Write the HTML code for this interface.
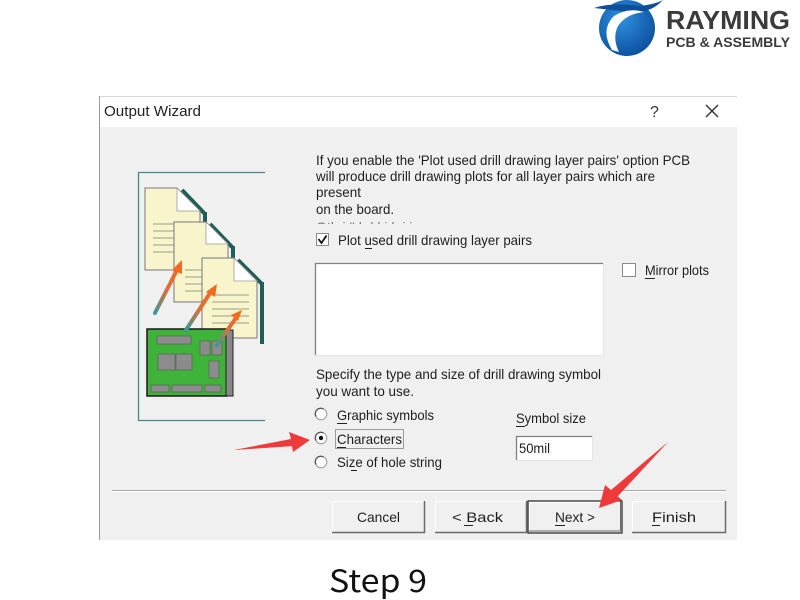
<!DOCTYPE html>
<html><head><meta charset="utf-8"><style>
html,body{margin:0;padding:0;background:#fff;width:800px;height:600px;overflow:hidden}
svg{display:block}
</style></head><body>
<svg width="800" height="600" viewBox="0 0 800 600" xmlns="http://www.w3.org/2000/svg" font-family="Liberation Sans, Arial, sans-serif">
<defs>
<radialGradient id="gb" cx="0.4" cy="0.35" r="0.7">
<stop offset="0" stop-color="#2f8fe0"/><stop offset="1" stop-color="#0b4f9c"/>
</radialGradient>
<linearGradient id="ar" x1="0" y1="1" x2="1" y2="0">
<stop offset="0" stop-color="#3a9a9a"/><stop offset="0.5" stop-color="#d8703a"/><stop offset="1" stop-color="#f06a20"/>
</linearGradient>
</defs>

<!-- Logo -->
<circle cx="627" cy="28" r="28" fill="url(#gb)"/>
<path d="M594 8 Q612 2 640 6 Q656 4 663 0 Q650 14 630 12 Q612 10 594 8Z" fill="#0d4f9a"/>
<path d="M612 50 Q600 30 614 16 Q628 7 644 12 Q626 14 618 26 Q612 38 619 52Z" fill="#fff"/>
<text x="666" y="29" font-size="26" font-weight="bold" fill="#3b3b3b" textLength="124" lengthAdjust="spacingAndGlyphs">RAYMING</text>
<text x="666" y="47" font-size="13.5" font-weight="bold" fill="#3b3b3b" textLength="124" lengthAdjust="spacingAndGlyphs">PCB &amp; ASSEMBLY</text>

<!-- Dialog -->
<rect x="99" y="96" width="638" height="31" fill="#fff"/>
<line x1="99" y1="96.5" x2="737" y2="96.5" stroke="#d8d8d8"/>
<rect x="99" y="127" width="638" height="413" fill="#f0f0f0"/>
<line x1="99.5" y1="96" x2="99.5" y2="540" stroke="#9a9a9a"/>
<text x="104" y="116" font-size="14.5" fill="#222" textLength="97" lengthAdjust="spacingAndGlyphs">Output Wizard</text>
<text x="650" y="117" font-size="16" fill="#333">?</text>
<path d="M706 105 L718 117 M718 105 L706 117" stroke="#333" stroke-width="1.4"/>

<!-- Illustration frame -->
<path d="M265 172.5 H138.5 V420.5 H265" fill="none" stroke="#4a8a86" stroke-width="1.3"/>

<!-- docs -->
<g>
<path d="M205 212 V273 H203 M182 190 L205 214" stroke="#1f5e58" stroke-width="4" fill="none"/>
<path d="M145 188 H177 L200 211 V270 H145Z" fill="#f8f5cc" stroke="#777" stroke-width="1"/>
<path d="M177 188 V211 H200Z" fill="#fff" stroke="#999" stroke-width="0.8"/>
<g stroke="#9a9a8a" stroke-width="1"><line x1="153" y1="224" x2="190" y2="224"/><line x1="153" y1="231" x2="190" y2="231"/><line x1="153" y1="238" x2="190" y2="238"/><line x1="153" y1="245" x2="190" y2="245"/><line x1="153" y1="252" x2="190" y2="252"/></g>
</g>
<g>
<path d="M233 246 V306 H231 M210 224 L233 248" stroke="#1f5e58" stroke-width="4" fill="none"/>
<path d="M174 222 H206 L228 244 V302 H174Z" fill="#f8f5cc" stroke="#777" stroke-width="1"/>
<path d="M206 222 V244 H228Z" fill="#fff" stroke="#999" stroke-width="0.8"/>
<g stroke="#9a9a8a" stroke-width="1"><line x1="185" y1="270" x2="220" y2="270"/><line x1="185" y1="277" x2="220" y2="277"/><line x1="185" y1="284" x2="220" y2="284"/><line x1="185" y1="291" x2="220" y2="291"/></g>
</g>
<g>
<path d="M262 282 V342 H260 M238 260 L262 284" stroke="#1f5e58" stroke-width="4" fill="none"/>
<path d="M202 258 H234 L257 281 V338 H202Z" fill="#f8f5cc" stroke="#777" stroke-width="1"/>
<path d="M234 258 V281 H257Z" fill="#fff" stroke="#999" stroke-width="0.8"/>
<g stroke="#9a9a8a" stroke-width="1"><line x1="212" y1="295" x2="249" y2="295"/><line x1="212" y1="302" x2="249" y2="302"/><line x1="212" y1="309" x2="249" y2="309"/><line x1="212" y1="316" x2="249" y2="316"/><line x1="212" y1="323" x2="249" y2="323"/></g>
</g>

<!-- PCB -->
<rect x="147" y="329" width="80" height="67" fill="#3fb23a" stroke="#1a1a1a" stroke-width="1.5"/>
<rect x="226" y="330" width="7" height="66" fill="#888" stroke="#222" stroke-width="1"/>
<g fill="#8c8c8c" stroke="#555" stroke-width="0.6">
<rect x="157" y="336" width="34" height="8"/>
<rect x="158" y="354" width="17" height="16"/><rect x="176" y="354" width="16" height="16"/>
<rect x="151" y="385" width="18" height="7"/><rect x="172" y="385" width="30" height="7"/><rect x="205" y="385" width="16" height="7"/>
<rect x="200" y="341" width="10" height="14"/><rect x="212" y="341" width="10" height="14"/>
<rect x="209" y="361" width="10" height="17"/>
</g>
<!-- orange arrows -->
<g stroke="url(#ar)" stroke-width="4" fill="none" stroke-linecap="round">
<path d="M155 313 L178 268"/><path d="M186 330 L212 290"/><path d="M217 345 L238 315"/>
</g>
<g fill="#f06a20">
<path d="M182 260 L172 270 L182 274Z"/><path d="M217 284 L206 292 L215 297Z"/><path d="M242 310 L231 315 L238 321Z"/>
</g>

<!-- Paragraph -->
<g font-size="14" fill="#1e1e1e">
<text x="316" y="165" textLength="374" lengthAdjust="spacingAndGlyphs">If you enable the 'Plot used drill drawing layer pairs' option PCB</text>
<text x="316" y="181" textLength="339" lengthAdjust="spacingAndGlyphs">will produce drill drawing plots for all layer pairs which are</text>
<text x="316" y="197" textLength="45" lengthAdjust="spacingAndGlyphs">present</text>
<text x="316" y="214" textLength="78" lengthAdjust="spacingAndGlyphs">on the board.</text>
</g>
<svg x="300" y="221" width="420" height="3" overflow="hidden">
<text x="16" y="11" font-size="14" fill="#777">Oth   i            ''   h  l   l i   k  i       i   </text>
</svg>

<!-- checkbox plot used -->
<rect x="316.5" y="233.5" width="12" height="12" fill="#fff" stroke="#8a8a8a"/>
<path d="M318.5 239 L321.5 243 L326.5 235.5" stroke="#111" stroke-width="1.8" fill="none"/>
<text x="338" y="245" font-size="14" fill="#1e1e1e" textLength="194" lengthAdjust="spacingAndGlyphs">Plot used drill drawing layer pairs</text>
<line x1="365" y1="248.5" x2="372" y2="248.5" stroke="#222"/>

<!-- listbox -->
<rect x="315" y="263" width="288" height="92" fill="#fff"/>
<path d="M315.5 355 V263.5 H603" stroke="#808080" fill="none" stroke-width="1.3"/>
<path d="M315 355.5 H603.5 V263" stroke="#e4e4e4" fill="none"/>

<!-- mirror plots -->
<rect x="622.5" y="263.5" width="13" height="13" fill="#fff" stroke="#8a8a8a"/>
<text x="645" y="275" font-size="14" fill="#1e1e1e" textLength="64" lengthAdjust="spacingAndGlyphs">Mirror plots</text>
<line x1="645" y1="278.5" x2="655" y2="278.5" stroke="#222"/>

<!-- specify -->
<g font-size="14" fill="#1e1e1e">
<text x="316" y="379" textLength="285" lengthAdjust="spacingAndGlyphs">Specify the type and size of drill drawing symbol</text>
<text x="316" y="396" textLength="98" lengthAdjust="spacingAndGlyphs">you want to use.</text>
<text x="337" y="420" textLength="97" lengthAdjust="spacingAndGlyphs">Graphic symbols</text>
<text x="337" y="444" textLength="65" lengthAdjust="spacingAndGlyphs">Characters</text>
<text x="337" y="467" textLength="105" lengthAdjust="spacingAndGlyphs">Size of hole string</text>
<text x="516" y="423" textLength="70" lengthAdjust="spacingAndGlyphs">Symbol size</text>
</g>
<g stroke="#222">
<line x1="337" y1="423.5" x2="347" y2="423.5"/>
<line x1="337" y1="447.5" x2="346" y2="447.5"/>
<line x1="351" y1="470.5" x2="357" y2="470.5"/>
<line x1="516" y1="426.5" x2="525" y2="426.5"/>
</g>
<rect x="335.5" y="429.5" width="68" height="19" fill="none" stroke="#444" stroke-dasharray="1 1"/>
<!-- radios -->
<g>
<circle cx="321" cy="414" r="5.8" fill="#fff" stroke="#9a9a9a" stroke-width="1"/><path d="M316 416.5 A5.5 5.5 0 0 1 323.5 409" stroke="#555" stroke-width="1.3" fill="none"/>
<circle cx="321" cy="438" r="5.8" fill="#fff" stroke="#9a9a9a" stroke-width="1"/><path d="M316 440.5 A5.5 5.5 0 0 1 323.5 433" stroke="#555" stroke-width="1.3" fill="none"/><circle cx="321" cy="438" r="2.2" fill="#111"/>
<circle cx="321" cy="462" r="5.8" fill="#fff" stroke="#9a9a9a" stroke-width="1"/><path d="M316 464.5 A5.5 5.5 0 0 1 323.5 457" stroke="#555" stroke-width="1.3" fill="none"/>
</g>
<!-- symbol size input -->
<rect x="516" y="436" width="76" height="24" fill="#fff"/>
<path d="M516.5 460 V436.5 H592" stroke="#808080" fill="none" stroke-width="1.3"/>
<path d="M516 460.5 H592.5 V436" stroke="#e4e4e4" fill="none"/>
<text x="519" y="453" font-size="14" fill="#1e1e1e" textLength="31" lengthAdjust="spacingAndGlyphs">50mil</text>

<!-- separator -->
<line x1="112" y1="490.5" x2="726" y2="490.5" stroke="#a8a8a8"/>
<line x1="112" y1="491.5" x2="726" y2="491.5" stroke="#fff"/>

<!-- buttons -->
<g>
<rect x="332" y="501" width="93" height="32" fill="#f0f0f0"/>
<path d="M332.5 533 V501.5 H425" stroke="#fff" fill="none"/>
<path d="M332 532.5 H424.5 V501" stroke="#6a6a6a" fill="none" stroke-width="1.5"/>
<rect x="435" y="501" width="92" height="32" fill="#f0f0f0"/>
<path d="M435.5 533 V501.5 H527" stroke="#fff" fill="none"/>
<path d="M435 532.5 H526.5 V501" stroke="#6a6a6a" fill="none" stroke-width="1.5"/>
<rect x="528" y="501" width="94" height="32" fill="#f0f0f0" stroke="#222" stroke-width="1.2"/>
<path d="M529.5 531 V502.5 H620" stroke="#fff" fill="none"/>
<path d="M529 531 H620.5 V502" stroke="#6a6a6a" fill="none"/>
<rect x="632" y="501" width="94" height="32" fill="#f0f0f0"/>
<path d="M632.5 533 V501.5 H726" stroke="#fff" fill="none"/>
<path d="M632 532.5 H725.5 V501" stroke="#6a6a6a" fill="none" stroke-width="1.5"/>
</g>
<g font-size="14" fill="#1e1e1e">
<text x="357" y="522" textLength="43" lengthAdjust="spacingAndGlyphs">Cancel</text>
<text x="452" y="522" textLength="51" lengthAdjust="spacingAndGlyphs">&lt; Back</text>
<text x="555" y="522" textLength="40" lengthAdjust="spacingAndGlyphs">Next &gt;</text>
<text x="652" y="522" textLength="44" lengthAdjust="spacingAndGlyphs">Finish</text>
</g>
<g stroke="#222">
<line x1="464" y1="525.5" x2="473" y2="525.5"/>
<line x1="555" y1="525.5" x2="565" y2="525.5"/>
<line x1="652" y1="525.5" x2="660" y2="525.5"/>
</g>

<!-- red arrows -->
<path d="M234 450 L292 441 L293 446 Z" fill="#ee3a3a"/>
<path d="M234 450 L291 439 L289 432 L310 440 L293 452 L292 446 Z" fill="#ee3a3a"/>
<path d="M668 442 L613 493 L617 497 Z" fill="#ee3a3a"/>
<path d="M668 442 L611 490 L605 485 L599 508 L622 500 L616 495 Z" fill="#ee3a3a"/>

<!-- Step 9 -->
<text x="329" y="592" font-family="Noto Sans CJK SC, DejaVu Sans, sans-serif" font-size="31" fill="#111" textLength="98" lengthAdjust="spacingAndGlyphs">Step 9</text>
</svg>
</body></html>
